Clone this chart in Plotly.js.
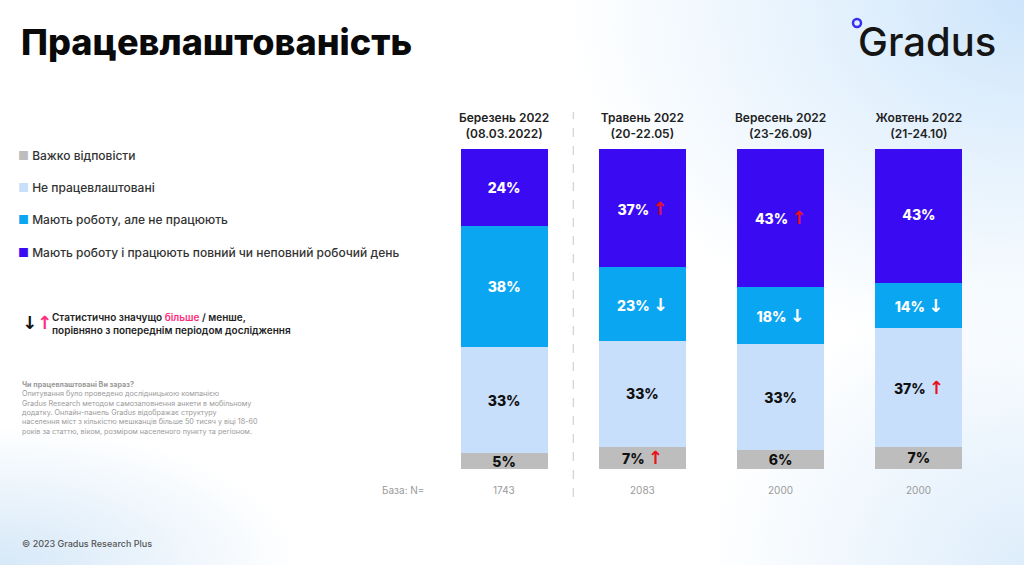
<!DOCTYPE html>
<html>
<head>
<meta charset="utf-8">
<script src="https://cdn.plot.ly/plotly-3.0.1.min.js"></script>
<style>
  html, body { margin:0; padding:0; }
  body {
    width:1024px; height:565px; overflow:hidden;
    background:
      radial-gradient(ellipse 460px 360px at 100% 0%, #cde5fb 0%, rgba(218,236,252,0.75) 40%, rgba(255,255,255,0) 100%),
      radial-gradient(ellipse 320px 280px at 100% 100%, rgba(214,233,250,0.8) 0%, rgba(255,255,255,0) 100%),
      radial-gradient(ellipse 300px 140px at 0% 100%, #d6e8f8 0%, rgba(255,255,255,0) 100%),
      #ffffff;
  }
  #chart { width:1024px; height:565px; }
</style>
</head>
<body>
<div id="chart"></div>
<script>
// ---- data ----
const periods = ['Березень 2022<br>(08.03.2022)', 'Травень 2022<br>(20-22.05)', 'Вересень 2022<br>(23-26.09)', 'Жовтень 2022<br>(21-24.10)'];
const baseN = ['1743', '2083', '2000', '2000'];

const seriesNames = ['Важко відповісти', 'Не працевлаштовані', 'Мають роботу, але не працюють', 'Мають роботу і працюють повний чи неповний робочий день'];
const hardToSay   = [5, 7, 6, 7];
const unemployed  = [33, 33, 33, 37];
const notWorking  = [38, 23, 18, 14];
const working     = [24, 37, 43, 43];

// significance markers: 'up' = significantly more, 'down' = significantly less
const sigHardToSay  = ['', 'up', '', ''];
const sigUnemployed = ['', '', '', 'up'];
const sigNotWorking = ['', 'down', 'down', 'down'];
const sigWorking    = ['', 'up', 'up', ''];

// ---- styles ----
const colors = ['#bdbdbd', '#c7dffa', '#0aa6f2', '#3a0bf2'];
const textColors = ['#111111', '#111111', '#ffffff', '#ffffff'];
const FONT = 'Inter, "Open Sans", "DejaVu Sans", sans-serif';
const ARROW = 'font-family:DejaVu Sans;font-size:18px;font-weight:bold';

const L = 435, R = 36, T = 149, B = 96, W = 1024 - L - R, H = 565 - T - B;
const px = x => (x - L) / W;
const py = y => (565 - B - y) / H;

function label(v, sig, arrowUpColor, arrowDownColor) {
  let s = v + '%';
  if (sig === 'up') s += ' <span style="color:' + arrowUpColor + ';' + ARROW + '">↑</span>';
  if (sig === 'down') s += ' <span style="color:' + arrowDownColor + ';' + ARROW + '">↓</span>';
  return s;
}

const allVals = [hardToSay, unemployed, notWorking, working];
const allSig = [sigHardToSay, sigUnemployed, sigNotWorking, sigWorking];

const traces = allVals.map((vals, i) => ({
  type: 'bar',
  name: seriesNames[i],
  x: periods,
  y: vals,
  marker: { color: colors[i], line: { width: 0 } },
  text: vals.map((v, j) => label(v, allSig[i][j], '#e8121c', '#ffffff')),
  textposition: 'inside',
  insidetextanchor: 'middle',
  constraintext: 'none',
  textangle: 0,
  textfont: { family: FONT, size: 14, weight: 800, color: textColors[i] },
  hoverinfo: 'skip',
  showlegend: false
}));

const annotations = [];
// title
annotations.push({ xref:'paper', yref:'paper', x: px(19), y: py(42), xanchor:'left', yanchor:'middle',
  text:'Працевлаштованість', showarrow:false, font:{ family: FONT, size: 36, weight: 800, color:'#0a0a0a' } });
// logo
annotations.push({ xref:'paper', yref:'paper', x: px(856), y: py(42), xanchor:'left', yanchor:'middle',
  text:'Gradus', showarrow:false, font:{ family: FONT, size: 40, weight: 500, color:'#151515' } });

// legend (top item = bottom of stack)
const legendY = [155, 187, 219, 252];
seriesNames.forEach((n, i) => {
  annotations.push({ xref:'paper', yref:'paper', x: px(16), y: py(legendY[i]), xanchor:'left', yanchor:'middle',
    text:'<span style="color:' + colors[i] + '">■</span> ' + n, showarrow:false,
    font:{ family: FONT, size: 12, weight: 500, color:'#333333' } });
});

// significance note
annotations.push({ xref:'paper', yref:'paper', x: px(20), y: py(322), xanchor:'left', yanchor:'middle',
  text:'↓<span style="color:#ff2d7a">↑</span>', showarrow:false,
  font:{ family: '"DejaVu Sans", sans-serif', size: 18, weight: 700, color:'#111111' } });
annotations.push({ xref:'paper', yref:'paper', x: px(50), y: py(323), xanchor:'left', yanchor:'middle', align:'left',
  text:'Статистично значущо <span style="color:#ff2d7a">більше</span> / менше,<br>порівняно з попереднім періодом дослідження',
  showarrow:false, font:{ family: FONT, size: 10, weight: 600, color:'#222222' } });

// method note
annotations.push({ xref:'paper', yref:'paper', x: px(20), y: py(378), xanchor:'left', yanchor:'top', align:'left',
  text:'<b>Чи працевлаштовані Ви зараз?</b><br>Опитування було проведено дослідницькою компанією<br>Gradus Research методом самозаповнення анкети в мобільному<br>додатку. Онлайн-панель Gradus відображає структуру<br>населення міст з кількістю мешканців більше 50 тисяч у віці 18-60<br>років за статтю, віком, розміром населеного пункту та регіоном.',
  showarrow:false, font:{ family: FONT, size: 7.2, color:'#9a9a9a' } });

// base N
annotations.push({ xref:'paper', yref:'paper', x: px(426), y: py(490), xanchor:'right', yanchor:'middle',
  text:'База: N=', showarrow:false, font:{ family: FONT, size: 10, color:'#9a9a9a' } });
periods.forEach((p, i) => {
  annotations.push({ xref:'x', yref:'paper', x: p, y: py(490), xanchor:'center', yanchor:'middle',
    text: baseN[i], showarrow:false, font:{ family: FONT, size: 10, color:'#9a9a9a' } });
});

// copyright
annotations.push({ xref:'paper', yref:'paper', x: px(20), y: py(543), xanchor:'left', yanchor:'middle',
  text:'© 2023 Gradus Research Plus', showarrow:false, font:{ family: FONT, size: 9, weight: 500, color:'#555555' } });

const shapes = [
  { type:'line', xref:'x', yref:'paper', x0:0.5, x1:0.5, y0: py(497), y1: py(112),
    line:{ color:'#c8c8c8', width:1, dash:'dash' } },
  { type:'circle', xref:'paper', yref:'paper', x0: px(853), x1: px(861), y0: py(27), y1: py(19),
    line:{ color:'#3a2cf2', width:2.5 }, fillcolor:'rgba(0,0,0,0)' }
];

const layout = {
  width:1024, height:565,
  margin:{ l:L, r:R, t:T, b:B },
  paper_bgcolor:'rgba(0,0,0,0)', plot_bgcolor:'rgba(0,0,0,0)',
  barmode:'stack', bargap:0.37,
  showlegend:false,
  xaxis:{ type:'category', side:'top', range:[-0.5, 3.5], showgrid:false, zeroline:false, showline:false,
    ticks:'', tickfont:{ family: FONT, size: 12, weight: 600, color:'#222222' }, ticklabelstandoff: 8, fixedrange:true },
  yaxis:{ range:[0, 100], visible:false, fixedrange:true },
  annotations, shapes,
  font:{ family: FONT }
};

Plotly.newPlot('chart', traces, layout, { displayModeBar:false, staticPlot:true });
</script>
</body>
</html>
